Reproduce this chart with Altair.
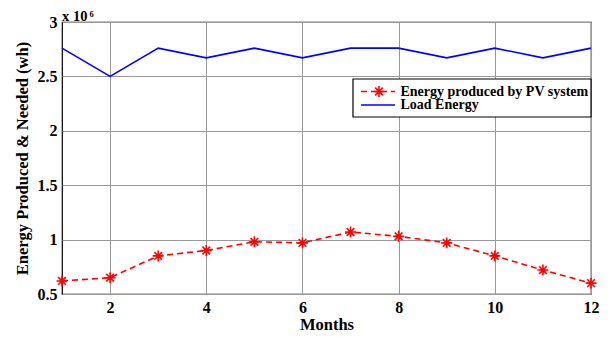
import altair as alt
import pandas as pd

months = list(range(1, 13))
pv_energy = [0.62, 0.65, 0.85, 0.90, 0.98, 0.97, 1.07, 1.03, 0.97, 0.85, 0.72, 0.60]  # x 10^6 wh
load_energy = [2.76, 2.50, 2.76, 2.67, 2.76, 2.67, 2.76, 2.76, 2.67, 2.76, 2.67, 2.76]  # x 10^6 wh
series_names = ["Energy produced by PV system", "Load Energy"]
x_ticks = [2, 4, 6, 8, 10, 12]
y_ticks = [0.5, 1, 1.5, 2, 2.5, 3]

df = pd.DataFrame({"month": months, "pv": pv_energy, "load": load_energy})

FONT = "Liberation Serif"
W, H = 529, 272

xs = alt.Scale(domain=[1, 12], nice=False, zero=False)
ys = alt.Scale(domain=[0.5, 3], nice=False, zero=False)

x_axis = alt.Axis(values=x_ticks, title="Months", grid=True, gridColor="#999999",
                  labelFont=FONT, labelFontSize=16, labelFontWeight="bold", labelColor="black",
                  titleFont=FONT, titleFontSize=16.5, titleFontWeight="bold", titleColor="black",
                  ticks=False, domain=False, labelPadding=5, titlePadding=1, labelFlush=False)
y_axis = alt.Axis(values=y_ticks, title="Energy Produced & Needed (wh)", grid=True, gridColor="#999999",
                  labelFont=FONT, labelFontSize=16, labelFontWeight="bold", labelColor="black",
                  titleFont=FONT, titleFontSize=16.5, titleFontWeight="bold", titleColor="black",
                  ticks=False, domain=False, labelPadding=5, titlePadding=7, labelFlush=False,
                  labelExpr="datum.value == 0.5 ? '0.5' : format(datum.value, '~g')")

base = alt.Chart(df)

load_line = base.mark_line(color="#0000ff", strokeWidth=1.6).encode(
    x=alt.X("month:Q", scale=xs, axis=x_axis),
    y=alt.Y("load:Q", scale=ys, axis=y_axis),
)

pv_line = base.mark_line(color="#ff0000", strokeWidth=1.6, strokeDash=[6, 4]).encode(
    x=alt.X("month:Q", scale=xs),
    y=alt.Y("pv:Q", scale=ys),
)

STAR = "M-1,0L1,0M0,-1L0,1M-0.7,-0.7L0.7,0.7M-0.7,0.7L0.7,-0.7"
pv_pts = base.mark_point(shape=STAR, color="#ff0000", size=120, strokeWidth=1.6, filled=False, opacity=1).encode(
    x=alt.X("month:Q", scale=xs),
    y=alt.Y("pv:Q", scale=ys),
)

# exponent label
exp_main = alt.Chart(pd.DataFrame({"t": ["x 10"]})).mark_text(
    font=FONT, fontSize=14.5, fontWeight="bold", align="left", baseline="alphabetic", color="black"
).encode(x=alt.value(0), y=alt.value(-1.5), text="t:N")
exp_sup = alt.Chart(pd.DataFrame({"t": ["6"]})).mark_text(
    font=FONT, fontSize=8.5, fontWeight="bold", align="left", baseline="alphabetic", color="black"
).encode(x=alt.value(27.5), y=alt.value(-5), text="t:N")

# legend
LX, LY = 291, 57
one = pd.DataFrame({"a": [0]})
leg_box = alt.Chart(one).mark_rect(
    fill="white", stroke="black", strokeWidth=1.2
).encode(x=alt.value(LX), x2=alt.value(W), y=alt.value(LY), y2=alt.value(LY + 38))
leg_red = alt.Chart(one).mark_rule(
    color="#ff0000", strokeWidth=1.6, strokeDash=[6, 4]
).encode(x=alt.value(LX + 8), x2=alt.value(LX + 42), y=alt.value(LY + 12.5))
leg_star = alt.Chart(one).mark_point(
    shape=STAR, color="#ff0000", size=120, strokeWidth=1.6, filled=False, opacity=1
).encode(x=alt.value(LX + 26), y=alt.value(LY + 12.5))
leg_blue = alt.Chart(one).mark_rule(
    color="#0000ff", strokeWidth=1.6
).encode(x=alt.value(LX + 8), x2=alt.value(LX + 42), y=alt.value(LY + 26))
leg_t1 = alt.Chart(pd.DataFrame({"t": [series_names[0]]})).mark_text(
    font=FONT, fontSize=14, fontWeight="bold", align="left", baseline="middle", color="black"
).encode(x=alt.value(LX + 47.5), y=alt.value(LY + 12.5), text="t:N")
leg_t2 = alt.Chart(pd.DataFrame({"t": [series_names[1]]})).mark_text(
    font=FONT, fontSize=14, fontWeight="bold", align="left", baseline="middle", color="black"
).encode(x=alt.value(LX + 47.5), y=alt.value(LY + 26), text="t:N")

chart = alt.layer(
    load_line, pv_line, pv_pts, exp_main, exp_sup,
    leg_box, leg_red, leg_star, leg_blue, leg_t1, leg_t2
).properties(
    width=W, height=H,
    autosize=alt.AutoSizeParams(type="none"),
    padding={"left": 54, "top": 14, "right": 11, "bottom": 45},
    background="white",
).configure_view(stroke="black", strokeWidth=1.2)

chart.save("out.html", embed_options={"renderer": "svg", "actions": False})
